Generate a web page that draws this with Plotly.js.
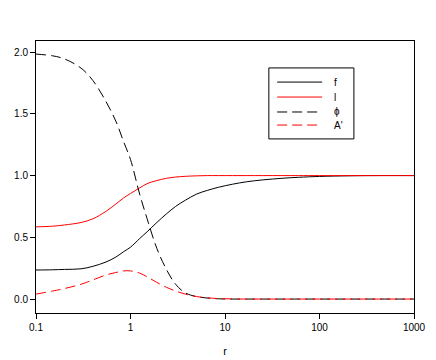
<!DOCTYPE html>
<html>
<head>
<meta charset="utf-8">
<script src="https://cdn.plot.ly/plotly-3.0.1.min.js"></script>
<style>
  body { margin: 0; background: #fff; }
  #chart { width: 436px; height: 360px; }
</style>
</head>
<body>
<div id="chart"></div>
<script>
var r = [0.1, 0.15, 0.2, 0.3, 0.4, 0.55, 0.7, 0.85, 1, 1.25, 1.5, 1.9, 2.4, 3, 3.8, 5, 6.5, 8.5, 12, 17, 25, 40, 60, 100, 200, 400, 1000];

var fVals   = [0.235, 0.237, 0.24, 0.245, 0.265, 0.30, 0.34, 0.385, 0.42, 0.49, 0.545, 0.62, 0.69, 0.75, 0.80, 0.85, 0.88, 0.905, 0.93, 0.95, 0.965, 0.978, 0.986, 0.993, 0.998, 1, 1];
var lVals   = [0.585, 0.59, 0.60, 0.62, 0.65, 0.71, 0.77, 0.82, 0.855, 0.90, 0.935, 0.96, 0.978, 0.988, 0.994, 0.998, 1, 1, 1, 1, 1, 1, 1, 1, 1, 1, 1];
var phiVals = [1.984, 1.97, 1.945, 1.87, 1.77, 1.60, 1.44, 1.27, 1.13, 0.85, 0.65, 0.41, 0.24, 0.12, 0.05, 0.02, 0.008, 0.002, 0, 0, 0, 0, 0, 0, 0, 0, 0];
var aVals   = [0.04, 0.065, 0.085, 0.12, 0.155, 0.195, 0.215, 0.228, 0.228, 0.21, 0.18, 0.135, 0.095, 0.065, 0.04, 0.02, 0.01, 0.004, 0.001, 0, 0, 0, 0, 0, 0, 0, 0];

var names  = ["f", "l", "\u03d5", "A'"];
var colors = ["black", "red", "black", "red"];
var dashes = ["solid", "solid", "10px,5px", "10px,5px"];
var series = [fVals, lVals, phiVals, aVals];

var traces = series.map(function (vals, i) {
  return {
    x: r, y: vals, name: names[i], mode: "lines", showlegend: false,
    line: {color: colors[i], width: 1, dash: dashes[i], shape: "spline"}
  };
});

// legend box drawn by hand so the rows sit as tight as in the original
var shapes = [{
  type: "rect", xref: "paper", yref: "paper",
  x0: 0.616, x1: 0.841, y0: 0.64, y1: 0.901,
  line: {color: "black", width: 1}, fillcolor: "white", layer: "above"
}];
var annotations = [];
var rowY = [0.849, 0.794, 0.739, 0.691];
names.forEach(function (n, i) {
  shapes.push({
    type: "line", xref: "paper", yref: "paper",
    x0: 0.638, x1: 0.757, y0: rowY[i], y1: rowY[i],
    line: {color: colors[i], width: 1, dash: dashes[i]}, layer: "above"
  });
  annotations.push({
    xref: "paper", yref: "paper", x: 0.783, y: rowY[i],
    xanchor: "left", yanchor: "middle", showarrow: false,
    text: n, font: {size: 10, color: "black"}
  });
});

var layout = {
  width: 436,
  height: 360,
  margin: {l: 36, r: 22, t: 41, b: 47},
  paper_bgcolor: "white",
  plot_bgcolor: "white",
  font: {family: "Liberation Sans, Arial, sans-serif", size: 10, color: "black"},
  showlegend: false,
  shapes: shapes,
  annotations: annotations,
  xaxis: {
    type: "log",
    range: [-1, 3],
    tickvals: [0.1, 1, 10, 100, 1000],
    ticktext: ["0.1", "1", "10", "100", "1000"],
    ticks: "outside", ticklen: 5, tickcolor: "black",
    showline: true, linecolor: "black", linewidth: 1, mirror: true,
    showgrid: false, zeroline: false,
    title: {text: "r", font: {size: 11}, standoff: 15}
  },
  yaxis: {
    range: [-0.113, 2.09],
    tickvals: [0, 0.5, 1, 1.5, 2],
    ticktext: ["0.0", "0.5", "1.0", "1.5", "2.0"],
    ticks: "outside", ticklen: 5, tickcolor: "black",
    showline: true, linecolor: "black", linewidth: 1, mirror: true,
    showgrid: false, zeroline: false
  }
};

Plotly.newPlot("chart", traces, layout, {displayModeBar: false});
</script>
</body>
</html>
